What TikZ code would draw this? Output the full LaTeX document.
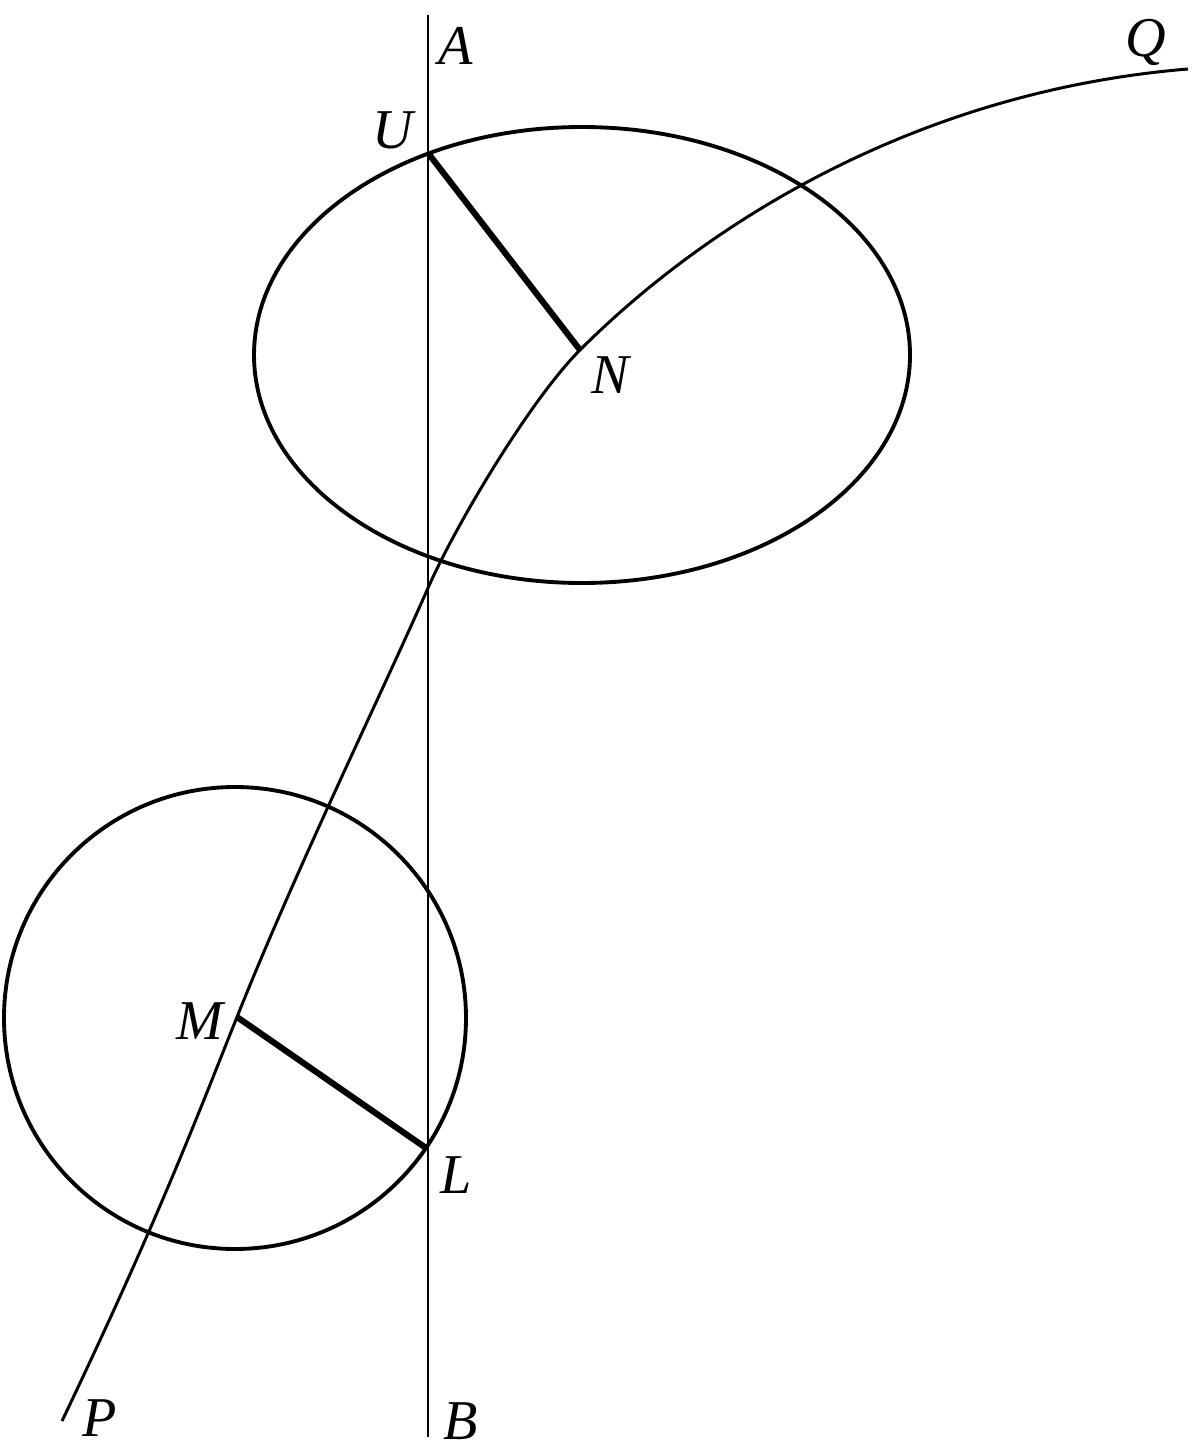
\documentclass[tikz,border=0pt]{standalone}
\usepackage{fontspec}
\setmainfont{Liberation Serif}
\begin{document}
\begin{tikzpicture}[x=0.02cm,y=-0.02cm,
  thinline/.style={line width=1.3pt},
  curveline/.style={line width=1.7pt},
  conicline/.style={line width=2.2pt},
  thickline/.style={line width=3.5pt},
  lbl/.style={font=\fontsize{32}{38}\selectfont\itshape, inner sep=0pt}]
\useasboundingbox (0,0) rectangle (1200,1450);
% points
\coordinate (Atop) at (428,15);
\coordinate (Bbot) at (428,1437);
\coordinate (U) at (428,153);
\coordinate (N) at (580,350);
\coordinate (M) at (237,1017);
\coordinate (L) at (426,1148);
\coordinate (P) at (62,1421);
\coordinate (X) at (428,588);
\coordinate (Q) at (1188,69);
\coordinate (Ec) at (582,355);
\coordinate (Cc) at (235,1018);
% vertical line AB
\draw[thinline] (Atop) -- (Bbot);
% ellipse and circle
\draw[conicline] (Ec) ellipse [x radius=328, y radius=228];
\draw[conicline] (Cc) circle [radius=231];
% curve PQ
\draw[curveline] (P) .. controls (158,1220) and (197,1117) .. (M)
  .. controls (297,867) and (379.6,698) .. (X)
  .. controls (456.2,524) and (530.5,399.5) .. (N)
  .. controls (700,229.8) and (909,92) .. (Q);
% radii
\draw[thickline] (U) -- (N);
\draw[thickline] (M) -- (L);
% labels
\node[lbl] (lA) at (456,46) {A};
\node[lbl] (lU) at (393,130) {U};
\node[lbl] (lQ) at (1146,42) {Q};
\node[lbl] (lN) at (610,375) {N};
\node[lbl] (lM) at (200,1021) {M};
\node[lbl] (lL) at (456,1175) {L};
\node[lbl] (lP) at (100,1418) {P};
\node[lbl] (lB) at (461,1421) {B};
\end{tikzpicture}
\end{document}
